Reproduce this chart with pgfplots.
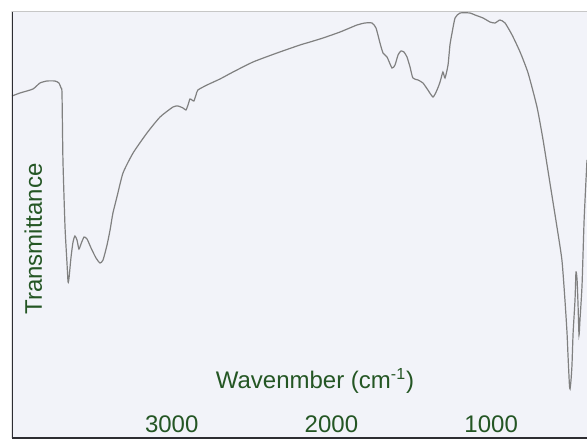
\documentclass[border=0pt]{standalone}
\usepackage{fontspec}
\setmainfont{Liberation Sans}
\usepackage{pgfplots}
\pgfplotsset{compat=1.18}

\definecolor{labelgreen}{RGB}{36,86,36}
\definecolor{panel}{RGB}{242,243,249}
\definecolor{trace}{RGB}{128,128,128}
\definecolor{frameline}{RGB}{45,45,50}

\begin{document}
\begin{tikzpicture}
\useasboundingbox (-6pt,-1.5pt) rectangle (287.5pt,219pt);
\fill[white] (-6pt,-1.5pt) rectangle (287.5pt,219pt);
\begin{axis}[
  scale only axis,
  width=287.5pt, height=213.5pt,
  x dir=reverse,
  xmin=400, xmax=4000,
  ymin=0, ymax=427,
  axis background/.style={fill=panel},
  axis line style={draw=none},
  xtick={1000,2000,3000},
  ytick=\empty,
  major tick length=0pt,
  /pgf/number format/assume math mode=true,
  /pgf/number format/1000 sep={},
  xticklabel style={anchor=base, yshift=3pt, font=\fontsize{12}{14}\selectfont, text=labelgreen},
  xlabel={Wavenmber (cm\textsuperscript{-1})},
  xlabel style={at={(rel axis cs:0.527,0.117)}, anchor=base, font=\fontsize{12}{14}\selectfont, text=labelgreen},
  ylabel={Transmittance},
  ylabel style={at={(rel axis cs:0.052,0.466)}, anchor=base, rotate=0, font=\fontsize{12}{14}\selectfont, text=labelgreen},
  clip=true,
]
% FT-IR transmittance trace
\addplot[trace, line width=0.6pt, smooth, tension=0.35] coordinates {
(4000,342) (3950,345) (3869,349) (3825,355) (3781,357) (3731,357) (3706,355)
(3693,350) (3687,345) (3681,278) (3668,211) (3656,176) (3649,156) (3643,160)
(3631,180) (3618,196) (3606,202) (3593,198) (3581,189) (3568,194) (3549,201)
(3530,199) (3505,190) (3474,180) (3449,175) (3430,178) (3405,193) (3386,208)
(3368,225) (3343,241) (3305,265) (3242,285) (3155,305) (3073,321) (2992,331)
(2961,332) (2929,330) (2911,328) (2898,333) (2886,339) (2873,338) (2861,337)
(2848,343) (2836,348) (2779,353) (2698,359) (2616,366) (2491,376) (2341,385)
(2197,393) (2134,396) (2053,400) (1946,406) (1840,413) (1790,415) (1746,415)
(1721,410) (1696,395) (1677,385) (1652,381) (1621,370) (1602,373) (1583,383)
(1565,387) (1546,386) (1527,381) (1508,371) (1490,360) (1458,358) (1427,355)
(1396,348) (1364,341) (1339,348) (1320,356) (1302,366) (1289,360) (1270,373)
(1258,393) (1245,405) (1226,420) (1195,425) (1133,425) (1101,423) (1051,420)
(1007,416) (976,415) (945,418) (913,415) (869,403) (819,386) (769,365)
(713,331) (675,298) (632,255) (588,211) (557,178) (538,138) (525,105)
(519,83) (510,53) (506,49) (500,58) (494,73) (487,105) (475,138) (469,166)
(462,158) (456,133) (450,103) (444,118) (431,153) (418,218) (400,278)
};
% frame: dark left and bottom rules, light top rule
\draw[frameline, line width=1pt] (rel axis cs:0,0) -- (rel axis cs:0,1);
\draw[frameline, line width=1.5pt] (rel axis cs:0,0) -- (rel axis cs:1,0);
\draw[black!22, line width=0.6pt] (rel axis cs:0,1) -- (rel axis cs:1,1);
\end{axis}
\end{tikzpicture}
\end{document}
